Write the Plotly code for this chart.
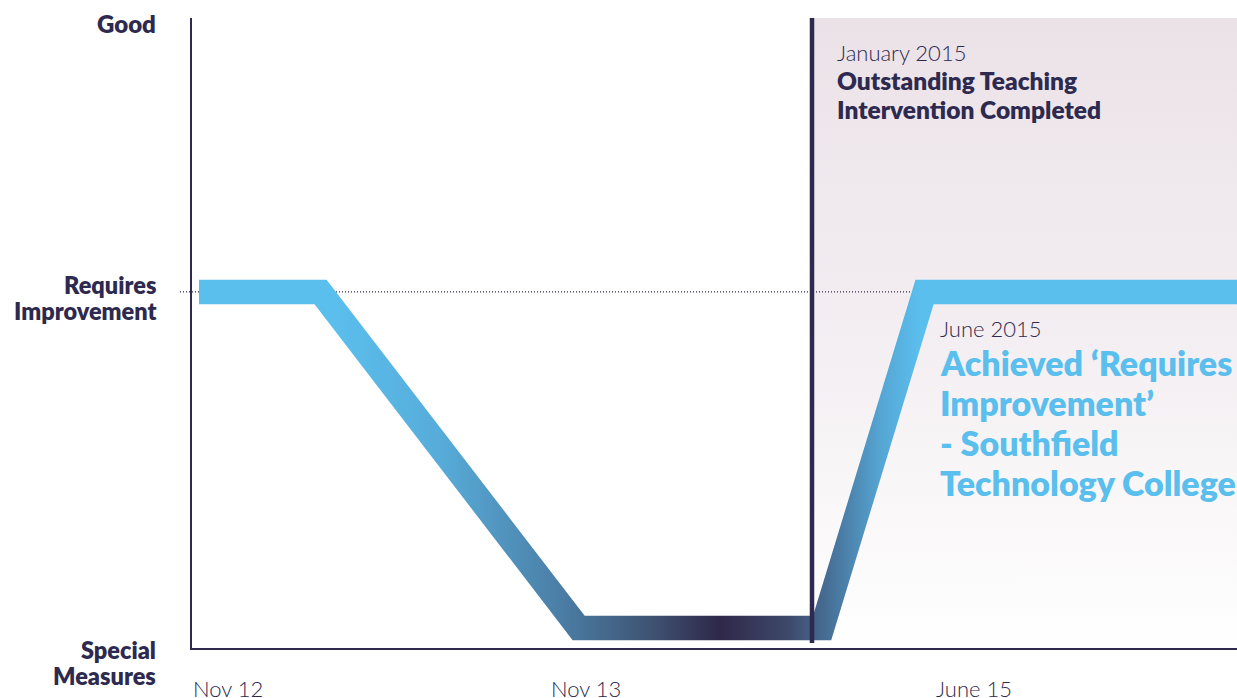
import numpy as np
import plotly.graph_objects as go

# ---------------- data ----------------
levels = ["Special Measures", "Requires Improvement"]
level_values = [0.0, 1.0]
timeline_labels = ["Nov 12", "Nov 13", "June 15"]
timeline_positions = [0.1, 34.4, 71.2]
path_positions = [0.67, 12.3, 37.0, 60.3, 70.1, 100.0]
path_ratings = ["Requires Improvement", "Requires Improvement", "Special Measures",
                "Special Measures", "Requires Improvement", "Requires Improvement"]
intervention_position = 59.33
intervention_date = "January 2015"
intervention_text = ["Outstanding Teaching", "Intervention Completed"]
result_date = "June 2015"
result_text = ["Achieved ‘Requires", "Improvement’", "- Southfield", "Technology College"]

# ---------------- styles / geometry ----------------
NAVY = "#2e2a4f"
BLUE = "#5bbfee"
FONT = "Lato"
W, H = 1237, 698
L, R, T, B = 192, 0, 18, 50
XR = [0.0, 100.0]
YR = [-0.0595, 1.815]
PW, PH = W - L - R, H - T - B

level_map = dict(zip(levels, level_values))


def x2px(x):
    return L + (x - XR[0]) / (XR[1] - XR[0]) * PW


def y2py(y):
    return T + (YR[1] - y) / (YR[1] - YR[0]) * PH


def px2x(px):
    return XR[0] + (px - L) / PW * (XR[1] - XR[0])


def py2y(py):
    return YR[1] - (py - T) / PH * (YR[1] - YR[0])


# stroked band (miter joins) built from the centre path
pts = np.array([[x2px(x), y2py(level_map[r])] for x, r in zip(path_positions, path_ratings)])
hw = 12.25
dirs = np.diff(pts, axis=0)
dirs = dirs / np.linalg.norm(dirs, axis=1)[:, None]
norms = np.stack([-dirs[:, 1], dirs[:, 0]], axis=1)
offs = []
for i in range(len(pts)):
    if i == 0:
        offs.append(norms[0] * hw)
    elif i == len(pts) - 1:
        offs.append(norms[-1] * hw)
    else:
        m = norms[i - 1] + norms[i]
        m = m / np.linalg.norm(m)
        offs.append(m * hw / np.dot(m, norms[i]))
offs = np.array(offs)
left = pts + offs
right = pts - offs
poly = np.vstack([left, right[::-1], left[:1]])
band_x = [px2x(p) for p in poly[:, 0]]
band_y = [py2y(p) for p in poly[:, 1]]


def frac(px):
    return (px - L) / PW


band_scale = [
    [0.0, BLUE], [frac(330), BLUE], [frac(440), "#57acd9"], [frac(560), "#4b7ea6"],
    [frac(650), "#3f5373"], [frac(720), "#2f2849"], [frac(790), "#3e4a6c"],
    [frac(840), "#4a7ba3"], [frac(880), "#55a5d3"], [frac(920), BLUE], [1.0, BLUE],
]

fig = go.Figure()

# shaded period after the intervention
fig.add_trace(go.Scatter(
    x=[intervention_position, XR[1], XR[1], intervention_position, intervention_position],
    y=[YR[0], YR[0], YR[1], YR[1], YR[0]],
    mode="lines", line=dict(width=0), fill="toself",
    fillgradient=dict(type="vertical", colorscale=[[0, "#ffffff"], [0.5, "#f3eef1"], [1, "#ebe2e7"]]),
    hoverinfo="skip", showlegend=False))

# dotted reference line at 'Requires Improvement'
fig.add_trace(go.Scatter(
    x=[XR[0], XR[1]], y=[level_map["Requires Improvement"]] * 2,
    mode="lines", line=dict(color=NAVY, width=1.2, dash="1px,2px"),
    hoverinfo="skip", showlegend=False))

# the band
fig.add_trace(go.Scatter(
    x=band_x, y=band_y, mode="lines", line=dict(width=0), fill="toself",
    fillgradient=dict(type="horizontal", colorscale=band_scale, start=XR[0], stop=XR[1]),
    hoverinfo="skip", showlegend=False))

# intervention vertical line
fig.add_trace(go.Scatter(
    x=[intervention_position, intervention_position], y=[py2y(643), YR[1]],
    mode="lines", line=dict(color=NAVY, width=4.5),
    hoverinfo="skip", showlegend=False))

# dotted overhang left of the axis
fig.add_shape(type="line", xref="paper", yref="y", x0=-12 / PW, x1=0,
              y0=level_map["Requires Improvement"], y1=level_map["Requires Improvement"],
              line=dict(color=NAVY, width=1.2, dash="1px,2px"))


def ann(text, px, py, size, color, weight, xanchor="left"):
    fig.add_annotation(
        text=text, xref="paper", yref="paper",
        x=(px - L) / PW, y=(H - B - py) / PH,
        xanchor=xanchor, yanchor="middle", showarrow=False,
        align=xanchor, font=dict(family=FONT, size=size, color=color, weight=weight))


HEAVY = 800

# y labels
ann("Good", 158, 24, 24, NAVY, HEAVY, "right")
ann("Requires", 158, 285, 23.5, NAVY, HEAVY, "right")
ann("Improvement", 158, 311, 23.5, NAVY, HEAVY, "right")
ann("Special", 158, 650, 23.5, NAVY, HEAVY, "right")
ann("Measures", 158, 676, 23.5, NAVY, HEAVY, "right")

# x labels (cut at the bottom edge as in the original)
for lab, pos in zip(timeline_labels, timeline_positions):
    ann(lab, x2px(pos) - 2, 688, 22, NAVY, 300, "left")

# intervention text
ann(intervention_date, 835, 52, 22, NAVY, 300)
ann(intervention_text[0], 835, 81, 24.5, NAVY, HEAVY)
ann(intervention_text[1], 835, 109, 24.5, NAVY, HEAVY)

# result text
ann(result_date, 938, 328, 22, NAVY, 300)
for i, t in enumerate(result_text):
    ann(t, 938, 362 + i * 40.2, 34, BLUE, HEAVY)

fig.update_xaxes(range=XR, showgrid=False, zeroline=False, showticklabels=False,
                 showline=True, linecolor=NAVY, linewidth=1.5, ticks="", fixedrange=True)
fig.update_yaxes(range=YR, showgrid=False, zeroline=False, showticklabels=False,
                 showline=True, linecolor=NAVY, linewidth=1.5, ticks="", fixedrange=True)
fig.update_layout(width=W, height=H, margin=dict(l=L, r=R, t=T, b=B),
                  plot_bgcolor="white", paper_bgcolor="white", showlegend=False,
                  font=dict(family=FONT, color=NAVY))

fig.write_html("out.html", config={"displayModeBar": False},
               post_script="document.body.style.margin='0';document.body.style.overflow='hidden';")
